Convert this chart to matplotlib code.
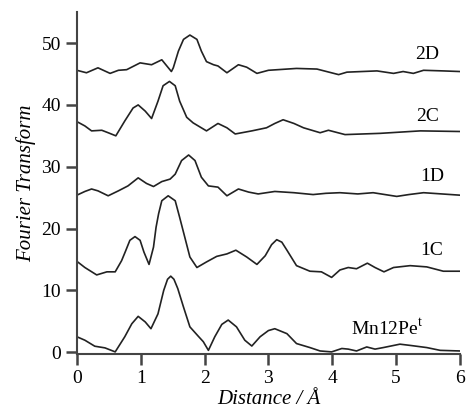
import matplotlib
matplotlib.use("Agg")
import matplotlib.pyplot as plt

plt.rcParams['font.family'] = ['Liberation Serif', 'DejaVu Serif']
plt.rcParams['mathtext.fontset'] = 'custom'
plt.rcParams['mathtext.rm'] = 'Liberation Serif'

# Curves (distance in A, intensity with vertical offset)
mn12_x = [0.0, 0.125, 0.28, 0.44, 0.6, 0.75, 0.86, 0.96, 1.07, 1.16, 1.27, 1.36, 1.42, 1.47, 1.52, 1.58, 1.67,
          1.77, 1.9, 1.98, 2.06, 2.16, 2.27, 2.37, 2.5, 2.63, 2.74, 2.87, 3.0, 3.1, 3.29, 3.44, 3.65, 3.81,
          3.99, 4.15, 4.25, 4.38, 4.54, 4.67, 4.8, 5.06, 5.22, 5.48, 5.69, 6.0]
mn12_y = [2.5, 1.94, 0.97, 0.7, 0.05, 2.5, 4.6, 5.8, 4.9, 3.8, 6.2, 10.0, 11.8, 12.3, 11.8, 10.3, 7.3,
          4.1, 2.6, 1.7, 0.3, 2.5, 4.5, 5.2, 4.1, 1.94, 1.0, 2.5, 3.5, 3.8, 3.0, 1.4, 0.75, 0.2,
          0.05, 0.6, 0.5, 0.2, 0.85, 0.5, 0.75, 1.3, 1.1, 0.75, 0.3, 0.2]

c1_x = [0.0, 0.125, 0.31, 0.47, 0.6, 0.7, 0.76, 0.83, 0.91, 0.99, 1.05, 1.13, 1.2, 1.24, 1.28, 1.33, 1.43,
        1.54, 1.61, 1.69, 1.77, 1.88, 2.03, 2.19, 2.35, 2.49, 2.66, 2.82, 2.95, 3.05, 3.13, 3.21, 3.29, 3.44,
        3.65, 3.83, 3.99, 4.12, 4.25, 4.38, 4.55, 4.67, 4.81, 4.96, 5.22, 5.48, 5.74, 6.0]
c1_y = [14.7, 13.7, 12.5, 13.0, 13.0, 14.8, 16.3, 18.1, 18.7, 18.1, 16.2, 14.2, 17.0, 20.2, 22.4, 24.5, 25.3,
        24.5, 21.8, 18.6, 15.4, 13.7, 14.6, 15.5, 15.9, 16.5, 15.4, 14.2, 15.6, 17.4, 18.2, 17.8, 16.5, 14.0,
        13.1, 13.0, 12.1, 13.3, 13.7, 13.5, 14.4, 13.7, 13.0, 13.7, 14.0, 13.8, 13.1, 13.1]

d1_x = [0.0, 0.125, 0.23, 0.33, 0.49, 0.65, 0.8, 0.96, 1.09, 1.2, 1.33, 1.46, 1.54, 1.64, 1.75, 1.85, 1.95,
        2.06, 2.21, 2.35, 2.53, 2.69, 2.84, 3.1, 3.4, 3.7, 3.9, 4.12, 4.4, 4.64, 5.01, 5.2, 5.43, 6.0]
d1_y = [25.4, 26.0, 26.4, 26.1, 25.3, 26.1, 26.9, 28.2, 27.3, 26.8, 27.6, 28.0, 28.8, 31.0, 31.9, 31.0, 28.3,
        26.9, 26.7, 25.3, 26.4, 25.9, 25.6, 26.0, 25.8, 25.5, 25.7, 25.8, 25.6, 25.8, 25.2, 25.5, 25.8, 25.4]

c2_x = [0.0, 0.125, 0.23, 0.39, 0.49, 0.61, 0.75, 0.88, 0.96, 1.07, 1.17, 1.27, 1.35, 1.45, 1.54, 1.61, 1.72,
        1.82, 2.03, 2.21, 2.35, 2.48, 2.74, 2.97, 3.1, 3.23, 3.4, 3.55, 3.81, 3.94, 4.2, 4.75, 5.38, 6.0]
c2_y = [37.3, 36.6, 35.8, 35.9, 35.5, 35.0, 37.4, 39.5, 40.0, 39.0, 37.8, 40.6, 43.1, 43.8, 43.1, 40.6, 38.0,
        37.1, 35.8, 37.0, 36.3, 35.3, 35.8, 36.3, 37.0, 37.6, 37.0, 36.3, 35.5, 35.9, 35.2, 35.4, 35.8, 35.7]

d2_x = [0.0, 0.15, 0.33, 0.52, 0.65, 0.78, 0.99, 1.17, 1.33, 1.48, 1.51, 1.59, 1.67, 1.77, 1.88, 1.95, 2.03,
        2.14, 2.21, 2.35, 2.53, 2.66, 2.82, 3.0, 3.44, 3.76, 4.1, 4.23, 4.7, 4.96, 5.11, 5.27, 5.43, 5.74, 6.0]
d2_y = [45.6, 45.2, 46.0, 45.1, 45.6, 45.7, 46.8, 46.5, 47.3, 45.4, 46.0, 48.7, 50.6, 51.3, 50.6, 48.7, 47.0,
        46.5, 46.3, 45.2, 46.5, 46.1, 45.1, 45.6, 45.9, 45.8, 44.9, 45.3, 45.5, 45.1, 45.4, 45.1, 45.6, 45.5, 45.4]

names = ['Mn12Pe$^{\\mathrm{t}}$', '1C', '1D', '2C', '2D']
label_x = [4.86, 5.56, 5.56, 5.49, 5.49]
label_y = [4.0, 16.5, 28.4, 38.1, 48.2]

fig = plt.figure(figsize=(4.66, 4.2), dpi=100)
ax = fig.add_axes([0.165, 0.157, 0.822, 0.814])

for xs, ys in [(mn12_x, mn12_y), (c1_x, c1_y), (d1_x, d1_y), (c2_x, c2_y), (d2_x, d2_y)]:
    ax.plot(xs, ys, color='#222222', lw=1.2, solid_joinstyle='round')

for name, lx, ly in zip(names, label_x, label_y):
    ax.text(lx, ly, name, fontsize=14, ha='center', va='center')

ax.set_xlim(0, 6)
ax.set_ylim(-0.3, 55)
ax.set_xticks(range(0, 7))
ax.set_yticks([0, 10, 20, 30, 40, 50])
ax.spines['top'].set_visible(False)
ax.spines['right'].set_visible(False)
for s in ['left', 'bottom']:
    ax.spines[s].set_linewidth(1.5)
    ax.spines[s].set_color('#444444')
ax.tick_params(direction='out', length=8, width=1.8, color='#444444', labelsize=14)
ax.set_xlabel('Distance / Å', fontsize=15, style='italic', labelpad=2)
ax.set_ylabel('Fourier Transform', fontsize=15, style='italic', labelpad=4)

fig.savefig('out.png', dpi=100)
